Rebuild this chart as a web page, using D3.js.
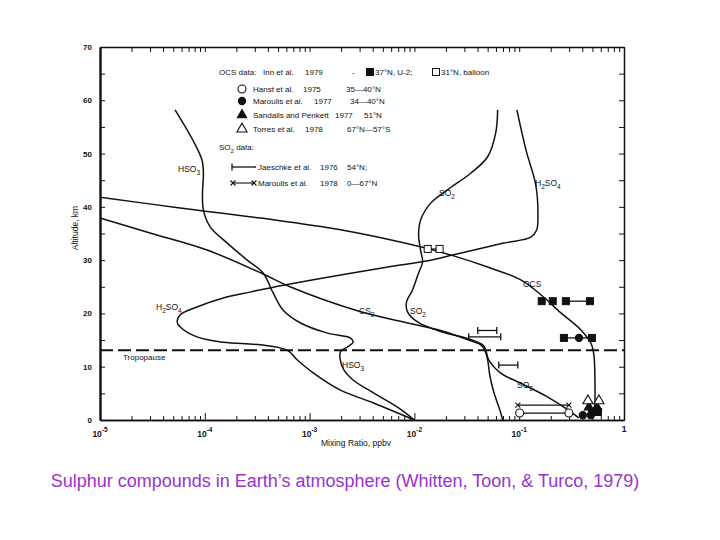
<!DOCTYPE html>
<html>
<head>
<meta charset="utf-8">
<title>Sulphur compounds</title>
<script src="https://d3js.org/d3.v7.min.js"></script>
<style>
  body { margin: 0; background: #fff; }
  svg text { font-family: "Liberation Sans", Arial, sans-serif; fill: #111; }
  .tick text { font-size: 8px; }
  .lbl { font-size: 8.5px; }
  .leg { font-size: 8px; }
  .caption { font-size: 18px; fill: #9933cc; }
</style>
</head>
<body>
<script>
// curves: [mixing ratio (ppbv), altitude (km)]
const hso3 = [[5.2e-5,58.2],[7.7e-5,52.5],[9.4e-5,48.8],[9.7e-5,46.3],[9.5e-5,42.5],[9.7e-5,39.4],
  [1.13e-4,36.2],[1.64e-4,33.2],[2.54e-4,30.0],[3.6e-4,27.6],[4.5e-4,23.8],[5.6e-4,20.6],[8.2e-4,18.2],
  [1.48e-3,16.3],[2.45e-3,15.4],[2.6e-3,14.6],[2.3e-3,13.7],[1.97e-3,12.8],[2.06e-3,9.9],[2.6e-3,7.5],
  [4.07e-3,5.1],[6.9e-3,2.4],[1.0e-2,0]];
const h2so4 = [[0.095,58.2],[0.116,50.7],[0.144,44.1],[0.151,38.5],[0.147,35.7],[0.129,34.3],[0.071,33.2],
  [0.0237,31.0],[0.0143,30.0],[4.75e-3,28.5],[5.6e-4,25.3],[2.7e-4,24.0],[1.5e-4,22.9],[8.4e-5,21.2],
  [5.8e-5,19.7],[5.45e-5,18.4],[5.8e-5,17.5],[8.4e-5,15.6],[1.5e-4,14.6],[3.4e-4,14.1],[6.1e-4,13.1],
  [7.6e-4,11.3],[1.09e-3,8.8],[1.97e-3,5.6],[4.07e-3,3.2],[1.0e-2,0]];
const so2 = [[0.0623,58.2],[0.0597,53.9],[0.050,49.4],[0.0344,46.3],[0.0207,43.2],[0.0143,40.7],
  [0.01145,37.5],[0.01096,34.7],[0.01145,31.9],[0.01197,29.6],[0.01096,27.6],[9.6e-3,24.4],[8.4e-3,22.1],
  [8.6e-3,20.3],[0.0107,18.4],[0.0178,16.6],[0.033,15.2],[0.0459,13.9],[0.0512,11.3],[0.0667,8.8],
  [0.1035,6.9],[0.1875,4.3],[0.292,1.9],[0.37,0.4]];
const cs2 = [[1e-5,37.9],[3.0e-5,35.1],[1.05e-4,31.9],[3.6e-4,27.4],[6.5e-4,25.0],[2.86e-3,20.5],
  [8.6e-3,18.2],[0.0178,16.8],[0.033,15.0],[0.043,14.1],[0.0469,13.1],[0.050,11.3],[0.0524,8.4],
  [0.0571,5.3],[0.0653,1.9],[0.0697,0]];
const ocs = [[1e-5,41.8],[5.8e-5,39.8],[3.4e-4,37.9],[1.97e-3,35.7],[0.01145,32.5],[0.0237,30.8],
  [0.050,28.7],[0.1035,26.3],[0.161,23.5],[0.250,20.1],[0.388,16.9],[0.484,14.4],[0.516,12.2],
  [0.528,7.5],[0.528,1.5]];
const tropopause = 13.1;

// measurements
const innU2 = [[0.164,22.3],[0.209,22.3],[0.279,22.3],[0.473,22.3],[0.267,15.4],[0.494,15.4],[0.494,1.5],[0.565,1.5]];
const innU2Links = [[0.279,0.473,22.3],[0.267,0.494,15.4]];
const innBalloon = [[0.0134,32.1],[0.0174,32.1]];
const hanst = [[0.101,1.3],[0.298,1.3]];
const maroulis77 = [[0.372,15.4],[0.405,0.9],[0.483,0.9]];
const sandalls = [[0.463,2.4],[0.552,2.4]];
const torres = [[0.453,3.6],[0.577,3.6]];
const jaeschke = [[0.0402,0.0611,16.8],[0.033,0.0667,15.6],[0.0638,0.097,10.3]];
const maroulis78 = [[0.097,0.298,2.8]];

const decades = [1e-5,1e-4,1e-3,1e-2,1e-1,1];
const decadeExp = ['-5','-4','-3','-2','-1',''];

const width = 720, height = 540;
const svg = d3.select('body').append('svg').attr('width', width).attr('height', height);

const x = d3.scaleLog().domain([1e-5, 1]).range([100, 624]);
const y = d3.scaleLinear().domain([0, 70]).range([420, 47]);

const minor = x.ticks().filter(v => !decades.some(d => Math.abs(v / d - 1) < 1e-6));

// axes, ticks pointing inward
svg.append('g').attr('transform', 'translate(0,420)')
  .call(d3.axisBottom(x).tickValues(minor).tickSize(-4).tickSizeOuter(0).tickFormat(''));
svg.append('g').attr('transform', 'translate(0,420)')
  .call(d3.axisBottom(x).tickValues(decades).tickSize(-7).tickSizeOuter(0).tickFormat(''));
svg.append('g').attr('transform', 'translate(0,47)')
  .call(d3.axisTop(x).tickValues(x.ticks()).tickSize(-5).tickSizeOuter(0).tickFormat(''));
svg.append('g').attr('class', 'yleft').attr('transform', 'translate(100,0)')
  .call(d3.axisLeft(y).tickValues(d3.range(0, 71, 5)).tickSize(-5).tickSizeOuter(0).tickPadding(8)
    .tickFormat(d => d % 10 ? '' : d));
svg.append('g').attr('transform', 'translate(624,0)')
  .call(d3.axisRight(y).tickValues(d3.range(0, 71, 5)).tickSize(-5).tickSizeOuter(0).tickFormat(''));
svg.selectAll('.domain').attr('stroke', '#111').attr('stroke-width', 1.5);
svg.selectAll('.tick line').attr('stroke', '#111');
svg.select('.yleft .domain').attr('stroke-width', 2.4);
svg.selectAll('.yleft text').attr('font-weight', 'bold');

// decade labels
const xl = svg.append('g');
decades.forEach((d, i) => {
  const t = xl.append('text').attr('class', 'lbl').attr('x', x(d)).attr('y', 437)
    .attr('text-anchor', 'middle').attr('font-weight', 'bold');
  if (decadeExp[i]) {
    t.append('tspan').text('10');
    t.append('tspan').attr('dy', -5).attr('font-size', 6.5).text(decadeExp[i]);
  } else {
    t.attr('y', 432).text('1');
  }
});
svg.append('text').attr('class', 'lbl').attr('x', 321).attr('y', 446).text('Mixing Ratio, ppbv');
svg.append('text').attr('class', 'lbl').attr('transform', 'translate(78,228) rotate(-90)')
  .attr('text-anchor', 'middle').text('Altitude, km');

// tropopause
svg.append('line').attr('x1', x(1e-5)).attr('x2', x(1)).attr('y1', y(tropopause)).attr('y2', y(tropopause))
  .attr('stroke', '#111').attr('stroke-width', 2).attr('stroke-dasharray', '13,5');
svg.append('text').attr('class', 'leg').attr('x', 123).attr('y', 360).text('Tropopause');

// curves
const line = d3.line().x(d => x(d[0])).y(d => y(d[1])).curve(d3.curveCatmullRom.alpha(0.5));
[hso3, h2so4, so2, cs2, ocs].forEach(c => {
  svg.append('path').attr('d', line(c)).attr('fill', 'none').attr('stroke', '#111').attr('stroke-width', 1.5);
});

// chemical labels with subscripts
function chem(px, py, parts) {
  const t = svg.append('text').attr('class', 'lbl').attr('x', px).attr('y', py);
  let sub = false;
  parts.forEach(p => {
    const isSub = /^\d$/.test(p);
    const s = t.append('tspan').text(p);
    if (isSub && !sub) s.attr('dy', 3).attr('font-size', 6.5);
    else if (isSub) s.attr('font-size', 6.5);
    else if (sub) s.attr('dy', -3);
    sub = isSub;
  });
}
chem(178, 172, ['HSO', '3']);
chem(156, 310, ['H', '2', 'SO', '4']);
chem(359, 314, ['CS', '2']);
chem(410, 314, ['SO', '2']);
chem(439, 196, ['SO', '2']);
chem(535, 186, ['H', '2', 'SO', '4']);
svg.append('text').attr('class', 'lbl').attr('x', 523).attr('y', 287).text('OCS');
chem(517, 388, ['SO', '2']);
chem(342, 368, ['HSO', '3']);

// markers
const ink = '#111';
function square(g, px, py, open) {
  g.append('rect').attr('x', px - 3.5).attr('y', py - 3.5).attr('width', 7).attr('height', 7)
    .attr('fill', open ? '#fff' : ink).attr('stroke', ink).attr('stroke-width', 1);
}
function circle(g, px, py, open) {
  g.append('circle').attr('cx', px).attr('cy', py).attr('r', open ? 4 : 3.6)
    .attr('fill', open ? '#fff' : ink).attr('stroke', ink).attr('stroke-width', 1.1);
}
function tri(g, px, py, open) {
  g.append('path').attr('d', d3.symbol(d3.symbolTriangle).size(open ? 45 : 38)())
    .attr('transform', `translate(${px},${py})`)
    .attr('fill', open ? '#fff' : ink).attr('stroke', ink).attr('stroke-width', 1.1);
}
function capBar(g, x1, x2, py, caps) {
  g.append('line').attr('x1', x1).attr('x2', x2).attr('y1', py).attr('y2', py).attr('stroke', ink).attr('stroke-width', 1.3);
  caps.forEach(cx => g.append('line').attr('x1', cx).attr('x2', cx).attr('y1', py - 3.5).attr('y2', py + 3.5)
    .attr('stroke', ink).attr('stroke-width', 1.3));
}
function xBar(g, x1, x2, py) {
  g.append('line').attr('x1', x1).attr('x2', x2).attr('y1', py).attr('y2', py).attr('stroke', ink).attr('stroke-width', 1.1);
  [x1, x2].forEach(cx => g.append('path').attr('d', `M${cx - 2.5},${py - 2.5}L${cx + 2.5},${py + 2.5}M${cx - 2.5},${py + 2.5}L${cx + 2.5},${py - 2.5}`)
    .attr('stroke', ink).attr('stroke-width', 1.1));
}

const m = svg.append('g');
innU2Links.forEach(d => m.append('line').attr('x1', x(d[0])).attr('x2', x(d[1])).attr('y1', y(d[2])).attr('y2', y(d[2]))
  .attr('stroke', ink).attr('stroke-width', 1.3));
m.append('line').attr('x1', x(hanst[0][0])).attr('x2', x(hanst[1][0]))
  .attr('y1', y(hanst[0][1])).attr('y2', y(hanst[1][1])).attr('stroke', ink).attr('stroke-width', 1.2);
m.append('line').attr('x1', x(innBalloon[0][0])).attr('x2', x(innBalloon[1][0]))
  .attr('y1', y(innBalloon[0][1])).attr('y2', y(innBalloon[1][1])).attr('stroke', ink).attr('stroke-width', 1.1);
jaeschke.forEach(d => capBar(m, x(d[0]), x(d[1]), y(d[2]), [x(d[0]), x(d[1])]));
maroulis78.forEach(d => xBar(m, x(d[0]), x(d[1]), y(d[2])));
innBalloon.forEach(d => square(m, x(d[0]), y(d[1]), true));
innU2.forEach(d => square(m, x(d[0]), y(d[1]), false));
hanst.forEach(d => circle(m, x(d[0]), y(d[1]), true));
maroulis77.forEach(d => circle(m, x(d[0]), y(d[1]), false));
sandalls.forEach(d => tri(m, x(d[0]), y(d[1]), false));
torres.forEach(d => tri(m, x(d[0]), y(d[1]), true));

// legend block
const lg = svg.append('g');
function ltext(px, py, s) { return lg.append('text').attr('class', 'leg').attr('x', px).attr('y', py).text(s); }
ltext(219, 75, 'OCS data:'); ltext(263, 75, 'Inn et al.'); ltext(305, 75, '1979'); ltext(352, 75, '-');
square(lg, 370, 72, false); ltext(375, 75, '37°N, U-2;');
square(lg, 436, 72, true); ltext(441, 75, '31°N, balloon');
circle(lg, 242, 89, true); ltext(253, 92, 'Hanst et al.'); ltext(303, 92, '1975'); ltext(346, 92, '35—40°N');
circle(lg, 242, 101, false); ltext(253, 104, 'Maroulis et al.'); ltext(314, 104, '1977'); ltext(350, 104, '34—40°N');
tri(lg, 242, 115, false); ltext(253, 118, 'Sandalls and Penkett'); ltext(335, 118, '1977'); ltext(364, 118, '51°N');
tri(lg, 242, 129, true); ltext(253, 132, 'Torres et al.'); ltext(305, 132, '1978'); ltext(347, 132, '67°N—57°S');
const so2t = lg.append('text').attr('class', 'leg').attr('x', 219).attr('y', 150);
so2t.append('tspan').text('SO'); so2t.append('tspan').attr('dy', 2.5).attr('font-size', 6).text('2');
so2t.append('tspan').attr('dy', -2.5).text(' data:');
capBar(lg, 232, 256, 167, [232]); ltext(258, 170, 'Jaeschke et al.'); ltext(320, 170, '1976'); ltext(347, 170, '54°N;');
xBar(lg, 233, 254, 183); ltext(258, 186, 'Maroulis et al.'); ltext(320, 186, '1978'); ltext(347, 186, '0—67°N');

// caption
svg.append('text').attr('class', 'caption').attr('x', 345).attr('y', 487).attr('text-anchor', 'middle')
  .text('Sulphur compounds in Earth’s atmosphere (Whitten, Toon, & Turco, 1979)');
</script>
</body>
</html>
